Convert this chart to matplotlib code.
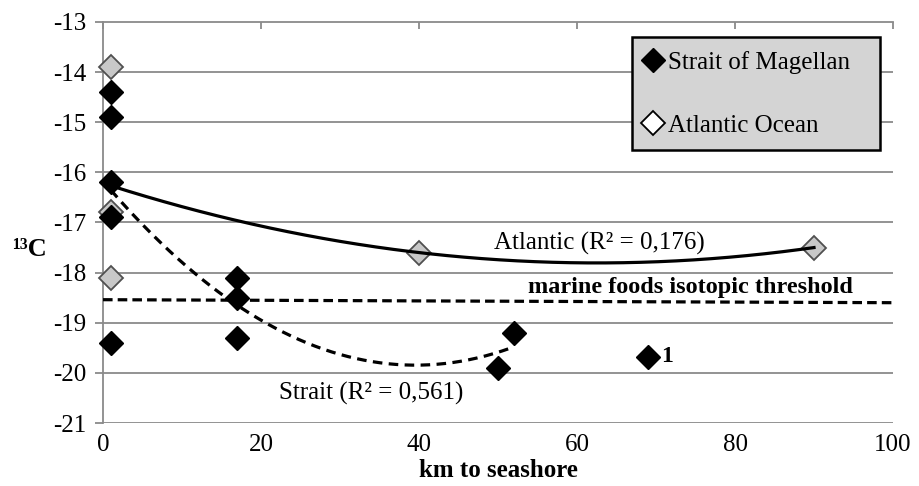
import numpy as np
import matplotlib
matplotlib.use("Agg")
import matplotlib.pyplot as plt
from matplotlib.lines import Line2D

plt.rcParams['font.family'] = ['Liberation Serif', 'DejaVu Serif']

# Data
strait_x = [1, 1, 1, 1, 1, 17, 17, 17, 50, 52]
strait_y = [-14.4, -14.9, -16.2, -16.9, -19.4, -18.1, -18.5, -19.3, -19.9, -19.2]
outlier_x = [69]
outlier_y = [-19.68]
atlantic_x = [1, 1, 1, 40, 90]
atlantic_y = [-13.9, -16.8, -18.1, -17.6, -17.5]
threshold_x = [0, 100]
threshold_y = [-18.54, -18.6]
x_ticks = [0, 20, 40, 60, 80, 100]
y_ticks = [-13, -14, -15, -16, -17, -18, -19, -20, -21]

fig = plt.figure(figsize=(9.2, 4.86), dpi=100)
ax = fig.add_axes([103/920, 1-423/486, (893-103)/920, (423-22)/486])
ax.set_xlim(0, 100)
ax.set_ylim(-21, -13)

grid_c = '#8a8a8a'
for yv in y_ticks[1:]:
    ax.axhline(yv, color=grid_c, lw=1.3, zorder=1)

for s in ['right', 'bottom']:
    ax.spines[s].set_visible(False)
for s in ['left', 'top']:
    ax.spines[s].set_color(grid_c)
    ax.spines[s].set_linewidth(1.3)

ax.set_xticks(x_ticks)
ax.set_yticks(y_ticks)
ax.tick_params(axis='x', bottom=False, top=True, labelbottom=True, labeltop=False,
               direction='in', length=5, color=grid_c, width=1.3, labelsize=18, pad=8)
ax.tick_params(axis='y', direction='out', length=6, color=grid_c, width=1.3,
               labelsize=18, pad=6)
ax.set_yticklabels([str(v) for v in y_ticks])
ax.set_xticklabels([str(v) for v in x_ticks])
ax.set_xlabel('km to seashore', fontsize=18, fontweight='bold', labelpad=2)

MS = 12.5
# Markers
ax.plot(atlantic_x, atlantic_y, linestyle='none', marker='D', ms=MS,
        mfc='#c8c8c8', mec='#505050', mew=1.3, zorder=3, clip_on=False)
ax.plot(strait_x, strait_y, linestyle='none', marker='D', ms=MS,
        mfc='black', mec='black', zorder=4, clip_on=False)
ax.plot(outlier_x, outlier_y, linestyle='none', marker='D', ms=MS,
        mfc='black', mec='black', zorder=4)
ax.text(outlier_x[0] + 1.7, outlier_y[0], '1', fontsize=17, fontweight='bold',
        va='center', ha='left')

# Trendlines (2nd-order polynomial fits)
pa = np.polyfit(atlantic_x, atlantic_y, 2)
xa = np.linspace(min(atlantic_x), max(atlantic_x), 200)
ax.plot(xa, np.polyval(pa, xa), color='black', lw=2.3, zorder=5)

ps = np.polyfit(strait_x, strait_y, 2)
xs = np.linspace(min(strait_x), max(strait_x), 200)
ax.plot(xs, np.polyval(ps, xs), color='black', lw=2.3, ls=(0, (3, 2)), zorder=5)

# Threshold
ax.plot(threshold_x, threshold_y, color='black', lw=2.3, ls=(0, (3, 1.6)), zorder=5)

ax.text((599-103)/7.9, -17.42, 'Atlantic (R² = 0,176)', fontsize=18, ha='center', va='center')
ax.text((690-103)/7.9, -18.3, 'marine foods isotopic threshold', fontsize=17.5,
        fontweight='bold', ha='center', va='center')
ax.text((371-103)/7.9, -20.42, 'Strait (R² = 0,561)', fontsize=18, ha='center', va='center')

fig.text(12/920, 1-250/486, '¹³C', fontsize=19, fontweight='bold', ha='left', va='center')

# Legend
handles = [Line2D([], [], ls='none', marker='D', ms=MS, mfc='black', mec='black'),
           Line2D([], [], ls='none', marker='D', ms=MS, mfc='white', mec='black', mew=1.3)]
leg = ax.legend(handles, ['Strait of Magellan', 'Atlantic Ocean'],
                loc='upper left', bbox_to_anchor=((632-103)/790, 1-(149-22)/401,
                                                   (880-632)/790, (149-37)/401),
                mode='expand', fontsize=18, frameon=True, fancybox=False,
                handlelength=0.6, handletextpad=0.3, labelspacing=1.62,
                borderpad=0.55, borderaxespad=0)
leg.get_frame().set_facecolor('#d4d4d4')
leg.get_frame().set_edgecolor('black')
leg.get_frame().set_linewidth(1.8)
leg.get_frame().set_alpha(1)
leg.set_zorder(10)

fig.savefig('out.png', dpi=100)
